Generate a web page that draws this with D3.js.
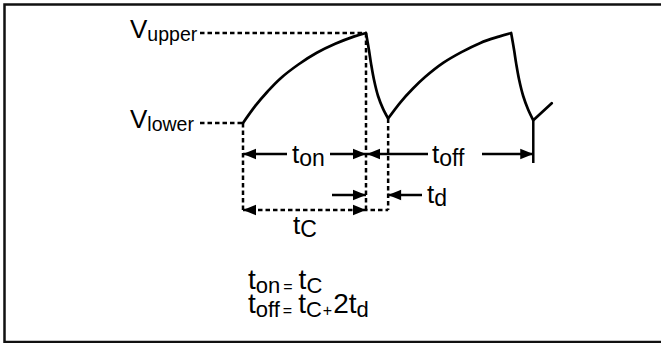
<!DOCTYPE html>
<html><head><meta charset="utf-8">
<script src="https://cdn.jsdelivr.net/npm/d3@7"></script>
<style>html,body{margin:0;padding:0;background:#fff;overflow:hidden}</style>
</head><body>
<svg id="c" width="661" height="343"></svg>
<script>
// ---- data (time units, normalised voltage: 0 = Vlower, 1 = Vupper) ----
const charge1    = [[0,0],[10,0.19],[20,0.35],[30,0.49],[45,0.65],[60,0.78],[75,0.88],[90,0.96],[100,1]];
const discharge1 = [[100,1],[102.4,0.81],[104.1,0.66],[106.5,0.48],[109.8,0.30],[113.8,0.16],[118,0.05]];
const charge2    = [[118,0.05],[128,0.23],[138,0.38],[148,0.51],[163,0.67],[178,0.79],[193,0.89],[208,0.96],[218,1]];
const discharge2 = [[218,1],[220.4,0.81],[222.1,0.66],[224.5,0.48],[227.8,0.30],[231.8,0.15],[236,0.03]];
const charge3    = [[236,0.03],[251,0.22]];
const keyTimes   = [0, 100, 118, 236];   // start, end of tC, tC+td, end of toff
const levels     = [0, 1];               // Vlower, Vupper

const svg = d3.select("#c");
const font = "'Liberation Sans', Arial, Helvetica, sans-serif";
const x = d3.scaleLinear().domain([0,100]).range([243,366]);
const y = d3.scaleLinear().domain([0,1]).range([123,33]);

// frame
svg.append("rect").attr("x",4.5).attr("y",4.5).attr("width",700).attr("height",337.5)
  .attr("fill","none").attr("stroke","#111").attr("stroke-width",2.5);

const dash = "4.5,3";
const dl = (x1,y1,x2,y2) => svg.append("line").attr("x1",x1).attr("y1",y1).attr("x2",x2).attr("y2",y2)
  .attr("stroke","#000").attr("stroke-width",2.5).attr("stroke-dasharray",dash);
const sl = (x1,y1,x2,y2) => svg.append("line").attr("x1",x1).attr("y1",y1).attr("x2",x2).attr("y2",y2)
  .attr("stroke","#000").attr("stroke-width",2.5);
const head = (tx,ty,dir) => { // dir: 1 = pointing right, -1 = pointing left
  const L=13, W=5.2;
  svg.append("path").attr("d",`M${tx},${ty}L${tx-dir*L},${ty-W}L${tx-dir*L},${ty+W}Z`).attr("fill","#000");
};

// level dashed lines
dl(200, y(levels[1]), x(keyTimes[1]), y(levels[1]));
dl(200, y(levels[0]), x(keyTimes[0]), y(levels[0]));
// vertical dashed lines
const rowB = 210;
dl(x(keyTimes[0]), y(0), x(keyTimes[0]), rowB);
dl(x(keyTimes[1]), y(1), x(keyTimes[1]), rowB);
dl(x(keyTimes[2]), y(0.05), x(keyTimes[2]), rowB);
dl(x(keyTimes[0]), rowB, x(keyTimes[2]), rowB);
head(x(keyTimes[0]), rowB, -1);
head(x(keyTimes[1]), rowB, 1);

// waveform
const line = d3.line().x(d=>x(d[0])).y(d=>y(d[1])).curve(d3.curveCatmullRom);
const pathD = [charge1,discharge1,charge2,discharge2,charge3].map(s=>line(s)).join("");
svg.append("path").attr("d",pathD).attr("fill","none").attr("stroke","#000")
  .attr("stroke-width",2.7).attr("stroke-linecap","round").attr("stroke-linejoin","round");

// row 1 arrows
const r1 = 154;
sl(x(keyTimes[0]), r1, 287, r1); head(x(keyTimes[0]), r1, -1);
sl(330, r1, x(keyTimes[1]), r1); head(x(keyTimes[1]), r1, 1);
sl(x(keyTimes[1]), r1, 428, r1); head(x(keyTimes[1])+1, r1, -1);
sl(482, r1, x(keyTimes[3]), r1); head(x(keyTimes[3]), r1, 1);
sl(x(keyTimes[3]), y(0.03), x(keyTimes[3]), 163);
// row 2 arrows
const r2 = 195;
sl(332, r2, x(keyTimes[1]), r2); head(x(keyTimes[1]), r2, 1);
sl(422, r2, x(keyTimes[2]), r2); head(x(keyTimes[2]), r2, -1);

// text helper: parts = [[text, kind, dx]] kind: m main, s subscript, o small operator
function label(px, py, sizes, parts){
  const t = svg.append("text").attr("x",px).attr("y",py).attr("font-family",font).attr("fill","#000");
  parts.forEach(([s,k,dx])=>{
    const ts = t.append("tspan").attr("font-size", sizes[k]).text(s);
    if (dx) ts.attr("dx", dx);
    if (k==="s") ts.attr("baseline-shift", -sizes.shift);
    if (k==="o") ts.attr("baseline-shift", -sizes.oshift);
  });
}
const vSz  = {m:26, s:19.5, shift:3};
const lSz  = {m:26, s:23, shift:3};
const eSz  = {m:28, s:22, o:16, shift:4, oshift:2.5};
label(130, 38, vSz, [["V","m"],["upper","s"]]);
label(130, 128, vSz, [["V","m"],["lower","s"]]);
label(292, 163, lSz, [["t","m"],["on","s"]]);
label(432, 163, lSz, [["t","m"],["off","s"]]);
label(427, 203, lSz, [["t","m"],["d","s"]]);
label(293, 234, lSz, [["t","m"],["C","s"]]);
label(248, 289, eSz, [["t","m"],["on","s"],["=","o",3],["t","m",6],["C","s"]]);
label(248, 313, eSz, [["t","m"],["off","s"],["=","o",3],["t","m",6],["C","s"],["+","o",1],["2t","m",1],["d","s"]]);
</script>
</body></html>
